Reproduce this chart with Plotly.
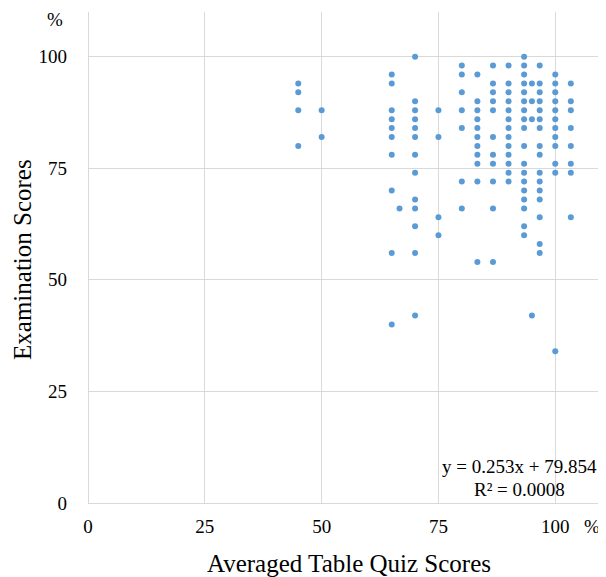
import plotly.graph_objects as go

# Averaged table quiz scores (%) and examination scores (%) per student
quiz_scores = (
    [45] * 4 + [50] * 2 + [65] * 10 + [66.67] + [70] * 13 + [75] * 4 + [80] * 7
    + [83.33] * 11 + [86.67] * 11 + [90] * 13 + [93.33] * 18 + [95] * 4
    + [96.67] * 16 + [100] * 12 + [103.33] * 8
)
exam_scores = (
    [94, 92, 88, 80]
    + [88, 82]
    + [96, 94, 88, 86, 84, 82, 78, 70, 56, 40]
    + [66]
    + [100, 90, 88, 86, 84, 82, 78, 74, 68, 66, 62, 56, 42]
    + [88, 82, 64, 60]
    + [98, 96, 92, 88, 84, 72, 66]
    + [96, 90, 88, 86, 84, 82, 80, 78, 76, 72, 54]
    + [98, 94, 92, 90, 88, 82, 78, 76, 72, 66, 54]
    + [98, 94, 92, 90, 88, 86, 84, 82, 80, 78, 76, 74, 72]
    + [100, 98, 96, 94, 92, 90, 88, 86, 84, 80, 76, 74, 72, 70, 68, 66, 62, 60]
    + [94, 90, 86, 42]
    + [98, 94, 92, 90, 88, 86, 84, 80, 78, 74, 72, 70, 68, 64, 58, 56]
    + [96, 94, 92, 90, 88, 86, 84, 82, 80, 76, 74, 34]
    + [94, 90, 88, 84, 80, 76, 74, 64]
)
tick_values = [0, 25, 50, 75, 100]
tick_labels = ["0", "25", "50", "75", "100"]
equation_text = "y = 0.253x + 79.854"
r2_text = "R² = 0.0008"

FONT = "Liberation Serif, Times New Roman, serif"
GRID = "#d9d9d9"

fig = go.Figure()
fig.add_trace(go.Scatter(
    x=quiz_scores, y=exam_scores, mode="markers",
    marker=dict(color="#5B9BD5", size=6, line=dict(width=0)),
    showlegend=False, hoverinfo="x+y",
))

# page body has an 8px margin, so the figure is sized to fit inside it
fig.update_layout(
    width=598, height=569,
    margin=dict(l=80, r=3.5, t=4, b=74),
    paper_bgcolor="white", plot_bgcolor="white",
    font=dict(family=FONT, size=19, color="#000000"),
    xaxis=dict(
        range=[0, 110], tickvals=tick_values, ticktext=tick_labels,
        showgrid=True, gridcolor=GRID, gridwidth=1,
        zeroline=True, zerolinecolor=GRID, zerolinewidth=1,
        showline=False, ticks="", ticklabelstandoff=10,
        tickfont=dict(family=FONT, size=19, color="#000000"),
        fixedrange=True,
    ),
    yaxis=dict(
        range=[0, 110], tickvals=tick_values, ticktext=tick_labels,
        showgrid=True, gridcolor=GRID, gridwidth=1,
        zeroline=True, zerolinecolor=GRID, zerolinewidth=1,
        showline=False, ticks="", ticklabelstandoff=20,
        tickfont=dict(family=FONT, size=19, color="#000000"),
        fixedrange=True,
    ),
    annotations=[
        dict(text="Averaged Table Quiz Scores", xref="paper", yref="paper",
             x=0.508, y=0, xanchor="center", yanchor="middle", yshift=-60,
             showarrow=False, font=dict(family=FONT, size=25)),
        dict(text="Examination Scores", xref="paper", yref="paper",
             x=0, y=0.495, xanchor="center", yanchor="middle", xshift=-65,
             textangle=-90, showarrow=False, font=dict(family=FONT, size=25)),
        dict(text="%", xref="paper", yref="paper", x=0, y=1,
             xanchor="center", yanchor="middle", xshift=-33, yshift=-7,
             showarrow=False, font=dict(family=FONT, size=19)),
        dict(text="%", xref="paper", yref="paper", x=1, y=0,
             xanchor="center", yanchor="middle", xshift=-10, yshift=-23,
             showarrow=False, font=dict(family=FONT, size=19)),
        dict(text=equation_text, xref="x", yref="y", x=92.4, y=8.1,
             xanchor="center", yanchor="middle", showarrow=False,
             font=dict(family=FONT, size=19)),
        dict(text=r2_text, xref="x", yref="y", x=92.4, y=3.0,
             xanchor="center", yanchor="middle", showarrow=False,
             font=dict(family=FONT, size=19)),
    ],
)

fig.write_html("out.html")
